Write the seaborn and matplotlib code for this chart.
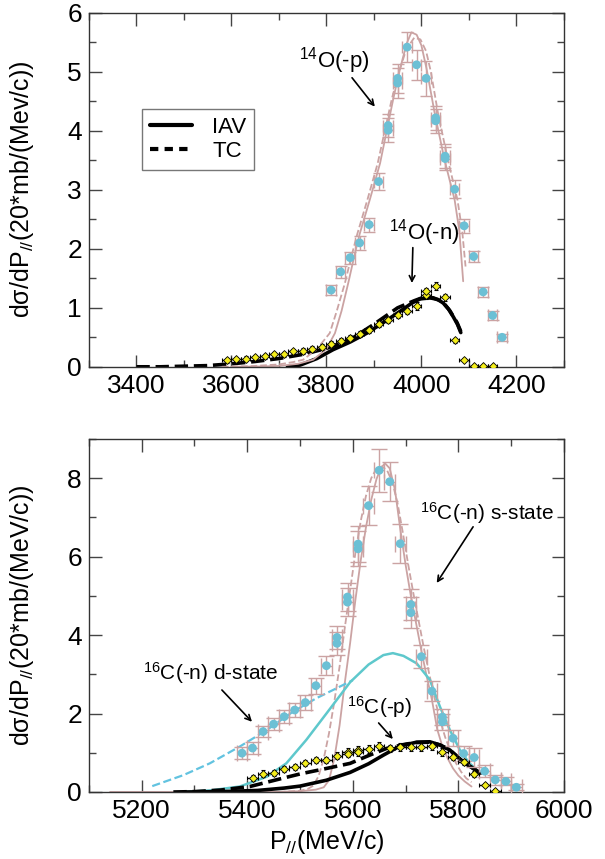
import matplotlib
matplotlib.use("Agg")
import matplotlib.pyplot as plt
import seaborn as sns
import pandas as pd
from matplotlib.lines import Line2D
from matplotlib.ticker import MultipleLocator

# ---------------- top panel data (14O) ----------------
o14p_x = [3810, 3830, 3850, 3870, 3890, 3910, 3930, 3930, 3950, 3950, 3970, 3990,
          4010, 4030, 4030, 4050, 4050, 4070, 4090, 4110, 4130, 4150, 4170]
o14p_y = [1.30, 1.61, 1.85, 2.10, 2.41, 3.14, 4.09, 4.01, 4.89, 4.81, 5.42, 5.12,
          4.89, 4.22, 4.17, 3.57, 3.53, 3.01, 2.39, 1.87, 1.27, 0.87, 0.50]
o14p_err = [0.08, 0.1, 0.1, 0.12, 0.12, 0.15, 0.2, 0.2, 0.25, 0.25, 0.25, 0.25,
            0.3, 0.2, 0.2, 0.2, 0.2, 0.15, 0.12, 0.1, 0.08, 0.07, 0.06]

o14n_x = [3590, 3610, 3630, 3650, 3670, 3690, 3710, 3730, 3750, 3770, 3790, 3810,
          3830, 3850, 3870, 3890, 3910, 3930, 3950, 3970, 3990, 4010, 4010, 4030,
          4050, 4070, 4090, 4110, 4130, 4150]
o14n_y = [0.11, 0.13, 0.14, 0.16, 0.18, 0.21, 0.21, 0.26, 0.27, 0.30, 0.33, 0.38,
          0.44, 0.49, 0.56, 0.62, 0.72, 0.80, 0.87, 0.95, 1.03, 1.21, 1.28, 1.37,
          1.18, 0.45, 0.12, 0.01, 0.01, 0.01]
o14n_err = [0.04, 0.04, 0.04, 0.04, 0.04, 0.04, 0.04, 0.05, 0.05, 0.05, 0.05, 0.05,
            0.05, 0.05, 0.05, 0.05, 0.05, 0.05, 0.05, 0.05, 0.06, 0.06, 0.06, 0.07,
            0.06, 0.04, 0.03, 0.02, 0.02, 0.02]

o14p_iav_x = [3600, 3660, 3700, 3740, 3772, 3800, 3818, 3832, 3846, 3858, 3870, 3892, 3913,
              3927, 3941, 3955, 3969, 3979, 3990, 4000, 4011, 4028, 4049, 4070, 4080, 4088]
o14p_iav_y = [0.0, 0.005, 0.015, 0.05, 0.12, 0.3, 0.57, 0.95, 1.42, 1.85, 2.25, 2.85, 3.45,
              4.0, 4.55, 5.05, 5.48, 5.67, 5.63, 5.45, 5.05, 4.3, 3.5, 2.83, 2.3, 1.45]
o14p_tc_x = [3580, 3640, 3700, 3730, 3751, 3780, 3807, 3822, 3839, 3852, 3865, 3887, 3908,
             3923, 3938, 3953, 3968, 3985, 3998, 4010, 4020, 4035, 4056, 4076, 4086, 4093]
o14p_tc_y = [0.0, 0.01, 0.04, 0.08, 0.12, 0.3, 0.57, 0.95, 1.42, 1.85, 2.25, 2.85, 3.45,
             4.0, 4.55, 5.0, 5.38, 5.58, 5.55, 5.35, 5.0, 4.3, 3.5, 2.83, 2.3, 1.7]

o14n_iav_x = [3718, 3745, 3780, 3814, 3850, 3885, 3920, 3955, 3980, 3997, 4018, 4035,
              4046, 4057, 4067, 4076, 4083]
o14n_iav_y = [0.0, 0.03, 0.14, 0.29, 0.42, 0.57, 0.75, 0.94, 1.08, 1.15, 1.17, 1.14,
              1.08, 0.98, 0.85, 0.72, 0.58]
o14n_tc_x = [3400, 3450, 3500, 3550, 3600, 3650, 3700, 3750, 3800, 3850, 3900, 3950,
             3985, 4005, 4025, 4045, 4060, 4075, 4083]
o14n_tc_y = [0.0, 0.0, 0.01, 0.02, 0.05, 0.09, 0.14, 0.21, 0.31, 0.46, 0.72, 1.0,
             1.12, 1.18, 1.17, 1.1, 0.95, 0.75, 0.6]

# ---------------- bottom panel data (16C) ----------------
c16n_x = [5390, 5410, 5430, 5450, 5470, 5490, 5510, 5530, 5550, 5570, 5570, 5590, 5590,
          5610, 5610, 5630, 5650, 5670, 5690, 5710, 5710, 5730, 5750, 5770, 5770, 5790,
          5810, 5830, 5850, 5870, 5890, 5910]
c16n_y = [0.99, 1.12, 1.54, 1.73, 1.92, 2.09, 2.28, 2.71, 3.22, 3.94, 3.79, 4.97, 4.84,
          6.32, 6.20, 7.30, 8.20, 7.91, 6.33, 4.78, 4.57, 3.45, 2.57, 1.91, 1.79, 1.37,
          0.98, 0.88, 0.53, 0.31, 0.27, 0.12]
c16n_err = [0.15, 0.15, 0.15, 0.15, 0.16, 0.17, 0.18, 0.2, 0.25, 0.3, 0.3, 0.35, 0.35,
            0.45, 0.45, 0.5, 0.55, 0.5, 0.5, 0.4, 0.4, 0.3, 0.25, 0.2, 0.2, 0.2,
            0.2, 0.25, 0.15, 0.12, 0.1, 0.08]

c16p_x = [5410, 5430, 5450, 5470, 5490, 5510, 5530, 5550, 5570, 5590, 5590, 5610, 5610,
          5630, 5650, 5670, 5690, 5710, 5730, 5750, 5770, 5790, 5810, 5830, 5850, 5870]
c16p_y = [0.36, 0.47, 0.48, 0.59, 0.64, 0.74, 0.81, 0.82, 0.93, 1.02, 0.97, 1.07, 1.02,
          1.10, 1.18, 1.11, 1.15, 1.15, 1.14, 1.16, 1.02, 0.90, 0.77, 0.46, 0.18, 0.02]
c16p_err = [0.08, 0.08, 0.08, 0.08, 0.08, 0.08, 0.08, 0.08, 0.09, 0.09, 0.09, 0.1, 0.1,
            0.1, 0.1, 0.1, 0.1, 0.1, 0.1, 0.1, 0.1, 0.09, 0.08, 0.07, 0.06, 0.05]

c16s_iav_x = [5140, 5300, 5450, 5500, 5530, 5545, 5555, 5565, 5575, 5585, 5595, 5605, 5615,
              5625, 5635, 5645, 5653, 5661, 5670, 5680, 5690, 5700, 5710, 5720, 5730, 5740,
              5750, 5760, 5770, 5780, 5790, 5800, 5812, 5825]
c16s_iav_y = [0.0, 0.0, 0.0, 0.02, 0.06, 0.12, 0.3, 0.85, 1.7, 2.8, 3.8, 4.9, 5.9,
              6.75, 7.45, 7.98, 8.25, 8.38, 8.25, 7.7, 6.7, 5.8, 5.0, 4.3, 3.6, 2.95,
              2.35, 1.6, 1.15, 0.85, 0.6, 0.42, 0.27, 0.14]
c16s_tc_x = [5460, 5500, 5515, 5525, 5535, 5545, 5555, 5565, 5575, 5585, 5595, 5605, 5615,
             5625, 5635, 5645, 5655, 5665, 5675, 5685, 5695, 5705, 5715, 5725, 5735, 5745,
             5755, 5765, 5775, 5785, 5795, 5805, 5815, 5825]
c16s_tc_y = [0.0, 0.03, 0.08, 0.16, 0.4, 0.85, 1.5, 2.3, 3.2, 4.2, 5.15, 6.1, 6.9,
             7.55, 8.0, 8.25, 8.3, 8.2, 7.9, 7.35, 6.6, 5.8, 5.05, 4.35, 3.65, 3.0,
             2.4, 1.85, 1.4, 1.05, 0.75, 0.52, 0.35, 0.25]

c16d_iav_x = [5280, 5330, 5386, 5437, 5474, 5512, 5550, 5595, 5630, 5658, 5676, 5696,
              5721, 5746, 5765, 5784, 5803, 5820, 5832]
c16d_iav_y = [0.0, 0.04, 0.14, 0.39, 0.73, 1.33, 2.0, 2.8, 3.25, 3.49, 3.54, 3.47,
              3.28, 2.86, 2.18, 1.58, 1.07, 0.75, 0.6]
c16d_tc_x = [5220, 5279, 5329, 5386, 5437, 5487, 5531, 5576, 5600]
c16d_tc_y = [0.15, 0.43, 0.73, 1.16, 1.58, 2.05, 2.39, 2.69, 2.85]

c16p_iav_x = [5280, 5350, 5420, 5470, 5500, 5550, 5595, 5630, 5658, 5689, 5721, 5746,
              5765, 5784, 5809, 5842]
c16p_iav_y = [0.0, 0.01, 0.04, 0.1, 0.15, 0.3, 0.5, 0.72, 0.94, 1.17, 1.27, 1.28,
              1.2, 1.07, 0.77, 0.48]
c16p_tc_x = [5260, 5300, 5350, 5405, 5455, 5500, 5550, 5595, 5632, 5664, 5700, 5721,
             5746, 5765, 5784, 5809, 5842]
c16p_tc_y = [0.0, 0.01, 0.05, 0.14, 0.31, 0.46, 0.6, 0.73, 0.94, 1.11, 1.22, 1.26,
             1.27, 1.2, 1.07, 0.77, 0.48]

# ---------------- estilo ----------------
sns.set_style("ticks")
plt.rcParams['font.family'] = ['Liberation Sans', 'DejaVu Sans']
plt.rcParams['mathtext.fontset'] = 'custom'
plt.rcParams['mathtext.rm'] = 'Liberation Sans'
plt.rcParams['mathtext.it'] = 'Liberation Sans:italic'
plt.rcParams['text.color'] = 'black'
plt.rcParams['axes.labelcolor'] = 'black'

PINK = '#cba3a3'
BLUE = '#6cc0d5'
CYAN = '#5ec8cc'
CYAN_D = '#62c3e0'
YELLOW = '#f4ee1c'

fig = plt.figure(figsize=(6.05, 8.59), dpi=100)
ax1 = fig.add_axes([0.147, 0.573, 0.785, 0.412])
ax2 = fig.add_axes([0.147, 0.078, 0.785, 0.411])


def curva(ax, x, y, color, lw, ls='-'):
    df = pd.DataFrame({'x': x, 'y': y})
    sns.lineplot(data=df, x='x', y='y', ax=ax, color=color, lw=lw, linestyle=ls,
                 estimator=None, sort=False, legend=False, zorder=2)


def puntos_azules(ax, x, y, err, cap):
    ax.errorbar(x, y, yerr=err, xerr=10, fmt='none', ecolor=PINK, elinewidth=1.0,
                capsize=cap, capthick=1.0, zorder=3)
    sns.scatterplot(x=x, y=y, ax=ax, color=BLUE, s=40, edgecolor='none', zorder=4)


def puntos_amarillos(ax, x, y, err):
    ax.errorbar(x, y, yerr=err, xerr=10, fmt='none', ecolor='black', elinewidth=1.0,
                capsize=1.5, capthick=0.8, zorder=3)
    sns.scatterplot(x=x, y=y, ax=ax, color=YELLOW, marker='D', s=16,
                    edgecolor='black', linewidth=0.6, zorder=4)


# --- panel superior ---
curva(ax1, o14n_tc_x, o14n_tc_y, 'black', 2.6, '--')
curva(ax1, o14n_iav_x, o14n_iav_y, 'black', 2.6)
curva(ax1, o14p_tc_x, o14p_tc_y, PINK, 1.3, '--')
curva(ax1, o14p_iav_x, o14p_iav_y, PINK, 1.3)
puntos_azules(ax1, o14p_x, o14p_y, o14p_err, 4)
puntos_amarillos(ax1, o14n_x, o14n_y, o14n_err)

# --- panel inferior ---
curva(ax2, c16s_tc_x, c16s_tc_y, PINK, 1.3, '--')
curva(ax2, c16s_iav_x, c16s_iav_y, PINK, 1.3)
curva(ax2, c16d_tc_x, c16d_tc_y, CYAN_D, 1.6, '--')
curva(ax2, c16d_iav_x, c16d_iav_y, CYAN, 1.8)
curva(ax2, c16p_tc_x, c16p_tc_y, 'black', 2.6, '--')
curva(ax2, c16p_iav_x, c16p_iav_y, 'black', 2.6)
puntos_azules(ax2, c16n_x, c16n_y, c16n_err, 6)
puntos_amarillos(ax2, c16p_x, c16p_y, c16p_err)

# --- ejes ---
for ax, xl, yl, xmaj, ymaj, ymin in [(ax1, (3300, 4300), (0, 6), 200, 1, 0.5),
                                      (ax2, (5100, 6000), (0, 9), 200, 2, 1)]:
    ax.set_xlim(*xl)
    ax.set_ylim(*yl)
    ax.xaxis.set_major_locator(MultipleLocator(xmaj))
    ax.xaxis.set_minor_locator(MultipleLocator(xmaj / 2))
    ax.yaxis.set_major_locator(MultipleLocator(ymaj))
    ax.yaxis.set_minor_locator(MultipleLocator(ymin))
    ax.tick_params(which='both', direction='in', top=True, right=True,
                   labelsize=19, color='#444444', labelcolor='black', pad=5)
    ax.tick_params(which='major', length=9, width=1.0)
    ax.tick_params(which='minor', length=5, width=1.0)
    for s in ax.spines.values():
        s.set_color('#333333')
        s.set_linewidth(1.0)
    ax.set_xlabel('')
    ax.yaxis.set_label_coords(-0.112, 0.5)

ax1.set_ylabel('dσ/dP$_{//}$(20*mb/(Mev/c))', fontsize=18)
ax2.set_ylabel('dσ/dP$_{//}$(20*mb/(MeV/c))', fontsize=18)
ax2.set_xlabel('P$_{//}$(MeV/c)', fontsize=18, labelpad=4)

# --- leyenda ---
handles = [Line2D([], [], color='black', lw=3),
           Line2D([], [], color='black', lw=3, ls=(0, (2, 1.5)))]
leg = ax1.legend(handles, ['IAV', 'TC'], loc='upper left', bbox_to_anchor=(0.112, 0.729),
                 borderaxespad=0, fontsize=16, frameon=True, fancybox=False,
                 handlelength=1.9, handletextpad=0.9, labelspacing=0.15,
                 borderpad=0.35)
leg.get_frame().set_edgecolor('#555555')
leg.get_frame().set_linewidth(1.0)

# --- anotaciones ---
flecha = dict(arrowstyle='->', color='black', lw=1.2, shrinkA=0, shrinkB=0)
ax1.text(3816, 5.2, '$^{14}$O(-p)', fontsize=16, ha='center', va='center')
ax1.annotate('', xy=(3902, 4.41), xytext=(3854, 4.9), arrowprops=flecha)
ax1.text(4007, 2.27, '$^{14}$O(-n)', fontsize=16, ha='center', va='center')
ax1.annotate('', xy=(3980, 1.42), xytext=(3982, 2.02), arrowprops=flecha)

ax2.text(5854, 7.12, '$^{16}$C(-n) s-state', fontsize=15, ha='center', va='center')
ax2.annotate('', xy=(5759, 5.33), xytext=(5828, 6.76), arrowprops=flecha)
ax2.text(5331, 3.04, '$^{16}$C(-n) d-state', fontsize=15, ha='center', va='center')
ax2.annotate('', xy=(5409, 1.79), xytext=(5352, 2.6), arrowprops=flecha)
ax2.text(5651, 2.17, '$^{16}$C(-p)', fontsize=15, ha='center', va='center')
ax2.annotate('', xy=(5676, 1.35), xytext=(5649, 1.76), arrowprops=flecha)

fig.savefig('out.png', dpi=100)
